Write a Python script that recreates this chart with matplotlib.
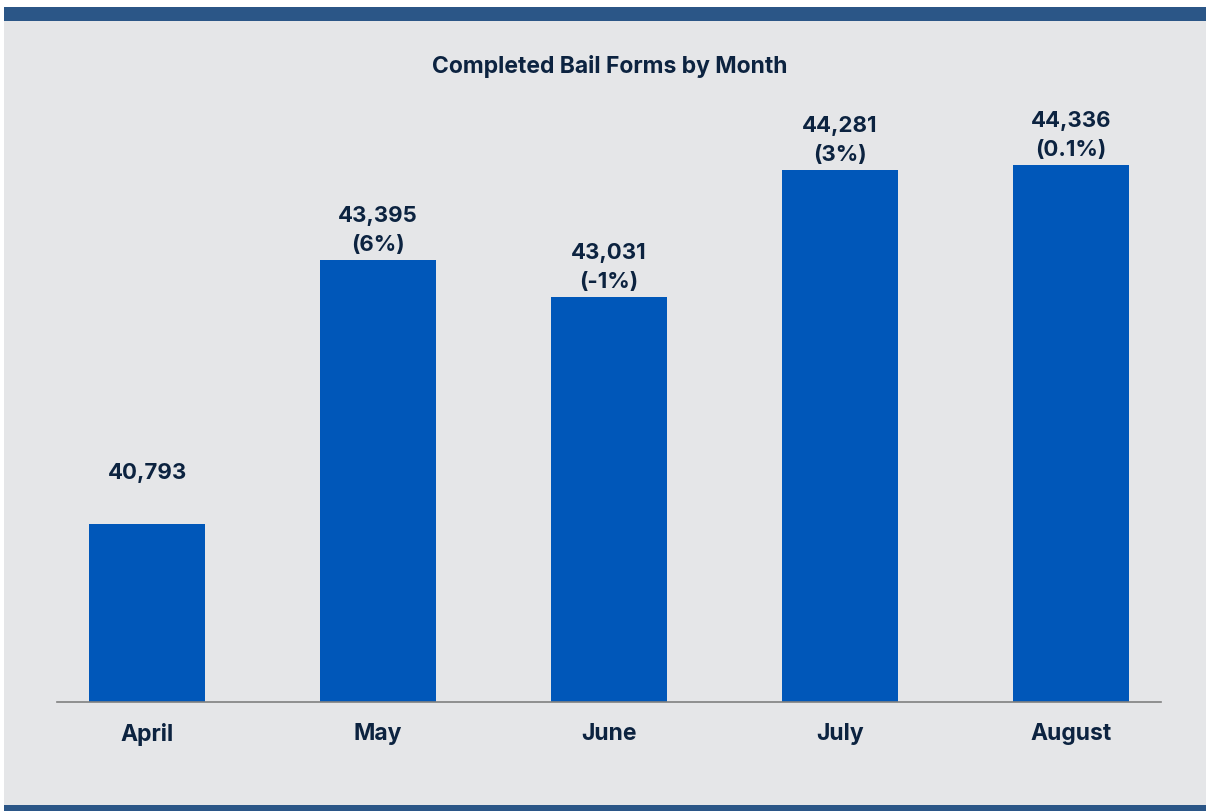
import matplotlib
matplotlib.use("Agg")
import matplotlib.pyplot as plt
from matplotlib.patches import Rectangle

months = ["April", "May", "June", "July", "August"]
values = [40793, 43395, 43031, 44281, 44336]
changes = ["", "(6%)", "(-1%)", "(3%)", "(0.1%)"]
title = "Completed Bail Forms by Month"

BAR = "#0057b9"
TXT = "#0c2340"
BAND = "#2b5687"
BG = "#e5e6e8"

plt.rcParams['font.family'] = ['Inter', 'DejaVu Sans']

W, H = 1206, 812
fig = plt.figure(figsize=(W / 100, H / 100), dpi=100)
fig.patch.set_facecolor("white")
fig.add_artist(Rectangle((4 / W, 0), 1 - 4 / W, 1 - 8 / H, transform=fig.transFigure,
                         facecolor=BG, edgecolor="none", zorder=0))
fig.add_artist(Rectangle((4 / W, 1 - 22 / H), 1 - 4 / W, 14 / H, transform=fig.transFigure,
                         facecolor=BAND, edgecolor="none", zorder=1))
fig.add_artist(Rectangle((4 / W, 0), 1 - 4 / W, 6 / H, transform=fig.transFigure,
                         facecolor=BAND, edgecolor="none", zorder=1))

left, right = 57 / W, 1161 / W
bottom, top = (H - 703) / H, (H - 100) / H
ax = fig.add_axes([left, bottom, right - left, top - bottom])
ax.set_facecolor("none")

x = list(range(len(months)))
ax.bar(x, values, width=0.5, color=BAR, zorder=2)
ymin = 39033
k = 0.1013
ax.set_ylim(ymin, ymin + 603 / k)
ax.set_xlim(-0.39, 4.39)

for xi, v, c in zip(x, values, changes):
    lab = f"{v:,}\n{c if c else ' '}"
    off = 4.5 if c else 9.5
    ax.annotate(lab, (xi, v), xytext=(0, off), textcoords="offset points",
                ha="center", va="bottom", fontsize=16, fontweight="bold",
                color=TXT, linespacing=1.55)

for s in ["left", "right", "top"]:
    ax.spines[s].set_visible(False)
ax.spines["bottom"].set_color("#808080")
ax.spines["bottom"].set_linewidth(1.2)
ax.set_yticks([])
ax.set_xticks(x)
ax.set_xticklabels(months, fontsize=16.5, fontweight="bold", color=TXT)
ax.tick_params(axis="x", length=0, pad=14.5)

fig.text((427 + 792) / 2 / W, 1 - 66 / H, title, ha="center", va="center",
         fontsize=16.5, fontweight="bold", color=TXT)

fig.savefig("out.png", dpi=100, facecolor=fig.get_facecolor())
